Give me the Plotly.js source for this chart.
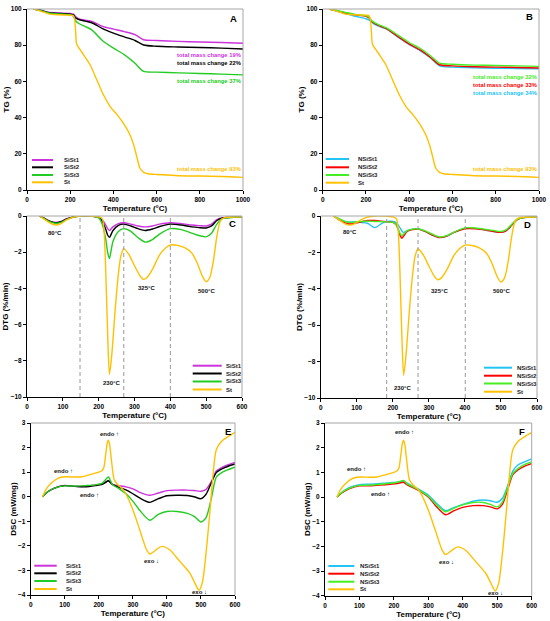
<!DOCTYPE html>
<html><head><meta charset="utf-8">
<script src="https://cdn.plot.ly/plotly-3.0.1.min.js"></script>
<style>html,body{margin:0;padding:0;background:#fff}#chart{width:550px;height:621px}</style>
</head><body><div id="chart"></div>
<script>
// ---------- DATA ----------
// TG (%) vs temperature (°C)
const T_TG = [30, 60, 100, 150, 200, 215, 225, 240, 270, 300, 350, 400, 450, 500, 540, 600, 700, 800, 900, 1000];
const TG_SiSt1 = [100, 99.5, 98.2, 97.8, 97.6, 97.2, 95.8, 94.6, 93.8, 93.2, 90.4, 88.9, 87.5, 85.8, 83.0, 82.6, 82.1, 81.8, 81.5, 81.1];
const TG_SiSt2 = [100, 99.3, 98.0, 97.5, 97.2, 96.7, 95.0, 94.2, 93.3, 92.4, 89.2, 86.7, 84.6, 82.6, 80.1, 79.4, 79.0, 78.7, 78.4, 77.9];
const TG_SiSt3 = [100, 99.2, 97.8, 97.2, 96.8, 96.0, 93.5, 92.0, 90.3, 88.5, 82.5, 78.4, 74.8, 70.0, 65.5, 65.1, 64.7, 64.4, 64.0, 63.6];
const TG_NSiSt1 = [100, 99.0, 97.6, 96.0, 94.6, 93.8, 92.8, 91.5, 90.0, 88.6, 84.3, 80.3, 77.0, 72.8, 68.6, 67.9, 67.5, 67.3, 67.1, 66.9];
const TG_NSiSt2 = [100, 99.2, 98.0, 96.8, 95.9, 95.0, 93.3, 92.0, 90.3, 88.8, 84.6, 80.6, 77.4, 73.1, 69.2, 68.6, 68.1, 67.9, 67.7, 67.4];
const TG_NSiSt3 = [100, 99.3, 98.3, 97.0, 96.3, 95.5, 93.8, 92.5, 90.8, 89.3, 85.4, 81.5, 78.3, 74.0, 70.1, 69.5, 69.0, 68.8, 68.6, 68.3];
const T_TG_St = [30, 60, 100, 150, 200, 215, 220, 225, 230, 246, 262, 292, 323, 354, 385, 415, 446, 477, 495, 508, 523, 542, 560, 600, 650, 700, 800, 900, 1000];
const TG_St = [100, 99, 97.3, 96.8, 96.6, 96.3, 94.5, 88, 80.5, 77.5, 74.7, 69.2, 60.9, 52.6, 46.1, 41.9, 36.9, 30.4, 24.5, 18.5, 12.0, 9.6, 9.0, 8.6, 8.3, 7.9, 7.7, 7.5, 7.0];
const massChangeA = [19, 22, 37, 93];
const massChangeB = [32, 33, 34, 93];

// DTG (%/min)
const T_DTG = [35, 50, 65, 80, 95, 110, 130, 150, 175, 200, 210, 220, 225, 230, 240, 255, 270, 290, 310, 330, 350, 370, 400, 430, 460, 480, 500, 515, 530, 545, 560, 580, 600];
const DTG_SiSt1 = [0, -0.15, -0.3, -0.35, -0.3, -0.15, -0.05, 0, 0, -0.05, -0.2, -0.5, -0.7, -0.8, -0.6, -0.42, -0.37, -0.45, -0.55, -0.6, -0.55, -0.45, -0.37, -0.42, -0.5, -0.53, -0.55, -0.45, -0.2, -0.1, -0.08, -0.06, -0.05];
const DTG_SiSt2 = [0, -0.15, -0.3, -0.37, -0.32, -0.17, -0.05, 0, 0, -0.08, -0.3, -0.75, -1.05, -1.18, -0.8, -0.52, -0.45, -0.55, -0.7, -0.8, -0.72, -0.58, -0.45, -0.5, -0.6, -0.64, -0.66, -0.55, -0.25, -0.12, -0.08, -0.06, -0.05];
const DTG_SiSt3 = [0, -0.17, -0.33, -0.4, -0.35, -0.2, -0.06, 0, 0, -0.1, -0.45, -1.3, -2.0, -2.35, -1.4, -0.85, -0.7, -0.85, -1.2, -1.44, -1.3, -1.0, -0.7, -0.75, -0.95, -1.08, -1.15, -0.95, -0.45, -0.15, -0.1, -0.07, -0.05];
const DTG_NSiSt1 = [0, -0.15, -0.28, -0.33, -0.33, -0.35, -0.4, -0.64, -0.35, -0.3, -0.38, -0.65, -0.82, -0.9, -0.8, -0.72, -0.7, -0.85, -1.05, -1.17, -1.1, -0.9, -0.67, -0.68, -0.78, -0.85, -0.9, -0.8, -0.5, -0.2, -0.1, -0.06, -0.05];
const DTG_NSiSt2 = [0, -0.2, -0.35, -0.44, -0.4, -0.33, -0.25, -0.25, -0.3, -0.35, -0.5, -1.05, -1.23, -1.1, -0.85, -0.75, -0.72, -0.85, -1.05, -1.19, -1.1, -0.9, -0.7, -0.7, -0.78, -0.85, -0.9, -0.8, -0.5, -0.2, -0.1, -0.06, -0.05];
const DTG_NSiSt3 = [0, -0.15, -0.28, -0.35, -0.33, -0.3, -0.28, -0.3, -0.32, -0.35, -0.5, -0.95, -1.08, -1.0, -0.8, -0.72, -0.7, -0.82, -1.0, -1.15, -1.08, -0.88, -0.65, -0.66, -0.74, -0.8, -0.85, -0.75, -0.45, -0.18, -0.1, -0.06, -0.05];
const T_DTG_St = [35, 50, 65, 80, 95, 110, 130, 150, 175, 200, 210, 215, 220, 225, 230, 236, 246, 255, 262, 270, 285, 300, 315, 325, 335, 350, 370, 385, 400, 420, 440, 460, 475, 490, 500, 510, 520, 530, 540, 550, 560, 580, 600];
const DTG_St = [0, -0.2, -0.4, -0.5, -0.42, -0.22, -0.06, 0, 0, -0.05, -0.15, -0.8, -3.2, -6.5, -8.75, -7.8, -5.2, -3.2, -2.2, -1.8, -2.15, -2.75, -3.3, -3.5, -3.4, -2.95, -2.15, -1.8, -1.6, -1.62, -1.75, -2.05, -2.6, -3.35, -3.63, -3.4, -2.5, -1.1, -0.25, -0.1, -0.07, -0.06, -0.05];
const dashC = [148, 270, 400];
const dashD = [183, 270, 401];
const peakT = [80, 230, 325, 500];

// DSC (mW/mg)
const T_DSC = [35, 50, 70, 100, 130, 160, 190, 210, 220, 228, 240, 260, 280, 300, 320, 350, 375, 400, 430, 460, 480, 500, 515, 530, 545, 560, 580, 600];
const DSC_SiSt1 = [0, 0.2, 0.35, 0.46, 0.42, 0.42, 0.48, 0.52, 0.6, 0.65, 0.5, 0.45, 0.4, 0.32, 0.18, 0.06, 0.15, 0.25, 0.27, 0.27, 0.25, 0.22, 0.3, 0.6, 1.05, 1.18, 1.3, 1.4];
const DSC_SiSt2 = [0, 0.2, 0.35, 0.45, 0.42, 0.4, 0.45, 0.5, 0.58, 0.65, 0.5, 0.38, 0.28, 0.12, -0.05, -0.23, -0.08, 0.04, 0.06, 0.05, 0.0, -0.08, 0.1, 0.55, 0.98, 1.12, 1.24, 1.33];
const DSC_SiSt3 = [0, 0.2, 0.35, 0.44, 0.43, 0.45, 0.48, 0.55, 0.7, 0.8, 0.5, 0.32, 0.12, -0.18, -0.55, -0.96, -0.72, -0.6, -0.6, -0.68, -0.8, -1.03, -0.85, -0.1, 0.8, 0.97, 1.1, 1.2];
const DSC_NSiSt1 = [0, 0.2, 0.38, 0.5, 0.52, 0.55, 0.58, 0.6, 0.63, 0.65, 0.55, 0.4, 0.25, 0.08, -0.2, -0.55, -0.42, -0.3, -0.17, -0.12, -0.15, -0.21, -0.05, 0.45, 1.05, 1.3, 1.43, 1.55];
const DSC_NSiSt2 = [0, 0.18, 0.33, 0.45, 0.45, 0.48, 0.52, 0.55, 0.58, 0.6, 0.48, 0.35, 0.2, 0.0, -0.33, -0.72, -0.55, -0.42, -0.35, -0.35, -0.4, -0.48, -0.3, 0.3, 0.9, 1.1, 1.25, 1.35];
const DSC_NSiSt3 = [0, 0.2, 0.35, 0.47, 0.48, 0.52, 0.56, 0.6, 0.64, 0.67, 0.52, 0.38, 0.22, 0.03, -0.26, -0.6, -0.45, -0.32, -0.22, -0.22, -0.3, -0.4, -0.2, 0.4, 0.95, 1.15, 1.32, 1.42];
const T_DSC_St = [35, 45, 60, 80, 100, 130, 150, 180, 200, 210, 215, 220, 225, 228, 232, 237, 245, 255, 270, 280, 300, 320, 340, 350, 360, 370, 385, 408, 438, 467, 487, 494, 504, 516, 526, 535, 545, 560, 580, 600];
const DSC_St = [0, 0.3, 0.55, 0.75, 0.81, 0.8, 0.81, 0.92, 1.0, 1.07, 1.2, 1.7, 2.2, 2.3, 2.1, 1.5, 0.7, 0.5, 0.31, 0.1, -0.53, -1.34, -2.15, -2.33, -2.25, -2.14, -2.02, -2.16, -2.63, -3.1, -3.65, -3.81, -3.5, -2.15, -0.65, 0.84, 1.91, 2.25, 2.45, 2.62];

const namesSi = ['SiSt1', 'SiSt2', 'SiSt3', 'St'];
const namesNSi = ['NSiSt1', 'NSiSt2', 'NSiSt3', 'St'];
const colorsSi = ['#CC33DD', '#000000', '#22CC22', '#FFC000'];
const colorsNSi = ['#22C4F4', '#FF0000', '#44EE22', '#FFC000'];

// ---------- BUILD ----------
const W = 550, H = 621;
const FONT = 'Liberation Sans, Arial, sans-serif';
const dx = (a, b) => [a / W, b / W];
const dy = (top, bot) => [1 - bot / H, 1 - top / H];

function line(x, y, name, color, n) {
  return {type: 'scatter', mode: 'lines', x: x, y: y, name: name,
    xaxis: 'x' + n, yaxis: 'y' + n, showlegend: false, hoverinfo: 'skip',
    line: {color: color, width: 1.4, shape: 'spline', smoothing: 0.7}};
}
const traces = [];
function panel(n, Tser, series, Tst, st, names, colors) {
  series.forEach((s, i) => traces.push(line(Tser, s, names[i], colors[i], n)));
  traces.push(line(Tst, st, names[3], colors[3], n));
}
panel('', T_TG, [TG_SiSt1, TG_SiSt2, TG_SiSt3], T_TG_St, TG_St, namesSi, colorsSi);
panel('2', T_TG, [TG_NSiSt1, TG_NSiSt2, TG_NSiSt3], T_TG_St, TG_St, namesNSi, colorsNSi);
panel('3', T_DTG, [DTG_SiSt1, DTG_SiSt2, DTG_SiSt3], T_DTG_St, DTG_St, namesSi, colorsSi);
panel('4', T_DTG, [DTG_NSiSt1, DTG_NSiSt2, DTG_NSiSt3], T_DTG_St, DTG_St, namesNSi, colorsNSi);
panel('5', T_DSC, [DSC_SiSt1, DSC_SiSt2, DSC_SiSt3], T_DSC_St, DSC_St, namesSi, colorsSi);
panel('6', T_DSC, [DSC_NSiSt1, DSC_NSiSt2, DSC_NSiSt3], T_DSC_St, DSC_St, namesNSi, colorsNSi);

const tickfont = {family: FONT, size: 6.5, color: '#000', weight: 'bold'};
const titlefont = {family: FONT, size: 8, color: '#000', weight: 'bold'};
function xax(domain, anchor, range, dtick, title) {
  return {domain: domain, anchor: anchor, range: range, dtick: dtick, tick0: 0,
    showgrid: false, zeroline: false, showline: true, linecolor: '#000', linewidth: 1,
    ticks: 'outside', ticklen: 3, tickwidth: 1, tickcolor: '#000', tickfont: tickfont,
    title: {text: title, font: titlefont, standoff: 3}};
}
function yax(domain, anchor, range, dtick, title) {
  return {domain: domain, anchor: anchor, range: range, dtick: dtick, tick0: 0,
    showgrid: false, zeroline: false, showline: true, linecolor: '#000', linewidth: 1,
    ticks: 'outside', ticklen: 3, tickwidth: 1, tickcolor: '#000', tickfont: tickfont,
    title: {text: title, font: titlefont, standoff: 0}};
}
const tT = 'Temperature (°C)';
const layout = {
  width: W, height: H, margin: {l: 0, r: 0, t: 0, b: 0},
  paper_bgcolor: '#fff', plot_bgcolor: '#fff', showlegend: false,
  font: {family: FONT, color: '#000'},
  xaxis: xax(dx(27, 243), 'y', [0, 1000], 200, tT),
  yaxis: yax(dy(9, 190), 'x', [0, 100], 20, 'TG (%)'),
  xaxis2: xax(dx(322.7, 539), 'y2', [0, 1000], 200, tT),
  yaxis2: yax(dy(9, 190), 'x2', [0, 100], 20, 'TG (%)'),
  xaxis3: xax(dx(27, 242), 'y3', [0, 600], 100, tT),
  yaxis3: yax(dy(216, 397), 'x3', [-10, 0], 2, 'DTG (%/min)'),
  xaxis4: xax(dx(320.7, 537), 'y4', [0, 600], 100, tT),
  yaxis4: yax(dy(216, 398), 'x4', [-10, 0], 2, 'DTG (%/min)'),
  xaxis5: xax(dx(30.7, 235), 'y5', [0, 600], 100, tT),
  yaxis5: yax(dy(423, 595), 'x5', [-4, 3], 1, 'DSC (mW/mg)'),
  xaxis6: xax(dx(325, 531.7), 'y6', [0, 600], 100, tT),
  yaxis6: yax(dy(423, 595.7), 'x6', [-4, 3], 1, 'DSC (mW/mg)'),
  shapes: [], annotations: []
};
const ids = ['', '2', '3', '4', '5', '6'];
// grey top/right frame
ids.forEach(n => {
  const g = {color: '#A6A6A6', width: 1};
  layout.shapes.push({type: 'line', xref: 'x' + n + ' domain', yref: 'y' + n + ' domain', x0: 0, x1: 1, y0: 1, y1: 1, line: g});
  layout.shapes.push({type: 'line', xref: 'x' + n + ' domain', yref: 'y' + n + ' domain', x0: 1, x1: 1, y0: 0, y1: 1, line: g});
});
// dashed guide lines
function dashes(arr, n) {
  arr.forEach(t => layout.shapes.push({type: 'line', xref: 'x' + n, yref: 'y' + n + ' domain', x0: t, x1: t, y0: 0, y1: 1,
    line: {color: '#999999', width: 1, dash: '4px,3px'}}));
}
dashes(dashC, '3'); dashes(dashD, '4');

// panel letters
const letters = [['A', '', 0.958, 0.95], ['B', '2', 0.958, 0.956], ['C', '3', 0.958, 0.956], ['D', '4', 0.958, 0.956], ['E', '5', 0.966, 0.953], ['F', '6', 0.953, 0.953]];
letters.forEach(([t, n, x, y]) => layout.annotations.push({text: t, xref: 'x' + n + ' domain', yref: 'y' + n + ' domain', x: x, y: y,
  showarrow: false, xanchor: 'center', yanchor: 'middle', font: {family: FONT, size: 9.5, weight: 'bold', color: '#000'}}));

function note(n, x, y, text, color, size, xanchor) {
  layout.annotations.push({text: text, xref: 'x' + n, yref: 'y' + n, x: x, y: y, showarrow: false,
    xanchor: xanchor || 'center', yanchor: 'middle', font: {family: FONT, size: size, weight: 'bold', color: color}});
}
// total mass change labels
const yA = [74.7, 70.4, 60.3, 11.6];
massChangeA.forEach((m, i) => note('', 1000, yA[i], 'total mass change ' + m + '%', colorsSi[i], 5.8, 'right'));
const yB = [62.5, 58.2, 53.8, 11.6];
const colB = [colorsNSi[2], colorsNSi[1], colorsNSi[0], colorsNSi[3]];
massChangeB.forEach((m, i) => note('2', 1000, yB[i], 'total mass change ' + m + '%', colB[i], 5.8, 'right'));
// DTG peak labels
const posC = [[79, -0.96], [235, -9.2], [334, -3.97], [501, -4.15]];
const posD = [[81, -0.9], [227, -9.43], [330, -4.12], [501, -4.12]];
peakT.forEach((p, i) => { note('3', posC[i][0], posC[i][1], p + '°C', '#111', 6); note('4', posD[i][0], posD[i][1], p + '°C', '#111', 6); });
// DSC endo/exo labels
const dscLabels = ['endo ↑', 'endo ↑', 'endo ↑', 'exo ↓', 'exo ↓'];
const posE = [[232, 2.55], [96, 1.06], [174, 0.09], [355, -2.63], [496, -3.88]];
const posF = [[232, 2.62], [92, 1.13], [160, 0.13], [353, -2.62], [494, -3.9]];
dscLabels.forEach((t, i) => { note('5', posE[i][0], posE[i][1], t, '#111', 6); note('6', posF[i][0], posF[i][1], t, '#111', 6); });

// manual compact legends
function legend(names, colors, x0, x1, xt, ys) {
  names.forEach((nm, i) => {
    layout.shapes.push({type: 'line', xref: 'paper', yref: 'paper', x0: x0 / W, x1: x1 / W, y0: 1 - ys[i] / H, y1: 1 - ys[i] / H,
      line: {color: colors[i], width: 2}});
    layout.annotations.push({text: nm, xref: 'paper', yref: 'paper', x: xt / W, y: 1 - ys[i] / H, showarrow: false,
      xanchor: 'left', yanchor: 'middle', font: {family: FONT, size: 6, weight: 'bold', color: '#222'}});
  });
}
legend(namesSi, colorsSi, 32, 53, 62, [160, 167.3, 175, 182.3]);
legend(namesNSi, colorsNSi, 325.7, 349, 356, [159, 167.3, 175, 182.7]);
legend(namesSi, colorsSi, 192.7, 221.7, 223.5, [365.7, 373.5, 381.5, 389.5]);
legend(namesNSi, colorsNSi, 484, 512, 515, [367.7, 375.7, 383.5, 391.7]);
legend(namesSi, colorsSi, 34.3, 56.7, 63.5, [565.7, 573.3, 581, 589]);
legend(namesNSi, colorsNSi, 328.3, 354.3, 357.5, [566, 573.7, 581.7, 589.3]);

Plotly.newPlot('chart', traces, layout, {staticPlot: true, displayModeBar: false});
</script></body></html>
